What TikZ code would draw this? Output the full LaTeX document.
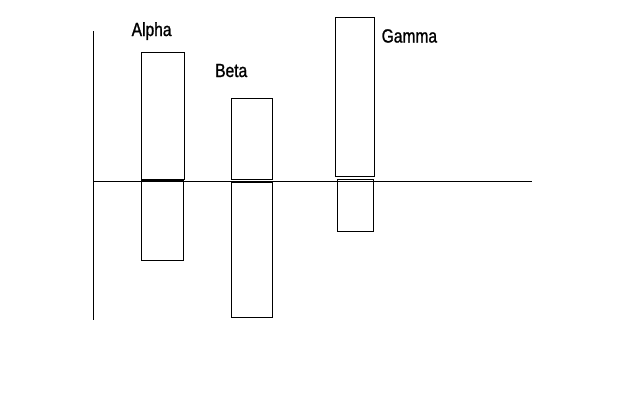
\documentclass[tikz,border=0pt]{standalone}
\usepackage{fontspec}
\setmainfont{Liberation Sans}[FakeStretch=0.82,FakeBold=1.2]
\begin{document}
\begin{tikzpicture}[x=1pt,y=-1pt,
  bar/.style={draw=black,line width=1pt},
  axis/.style={draw=black,line width=1pt},
  lbl/.style={anchor=base west,inner sep=0pt,font=\fontsize{19}{22}\selectfont}]
\useasboundingbox[fill=white] (0,0) rectangle (640,400);
% axes
\draw[axis] (93,31) -- (93,319.5);
\draw[axis] (93,181.5) -- (531.5,181.5);
% Alpha
\draw[bar] (141.5,52) rectangle (184.5,179.5);
\draw[bar] (141.5,180.5) rectangle (183.5,260);
% Beta
\draw[bar] (231,98.5) rectangle (272.5,179);
\draw[bar] (231.5,182.5) rectangle (272.5,317);
% Gamma
\draw[bar] (335.5,17.5) rectangle (374.5,176);
\draw[bar] (337.5,179.5) rectangle (373.5,231.5);
% labels
\node[lbl] (alpha) at (131.5,36) {Alpha};
\node[lbl] (beta) at (215,77) {Beta};
\node[lbl] (gamma) at (381.5,42.5) {Gamma};
\end{tikzpicture}
\end{document}
